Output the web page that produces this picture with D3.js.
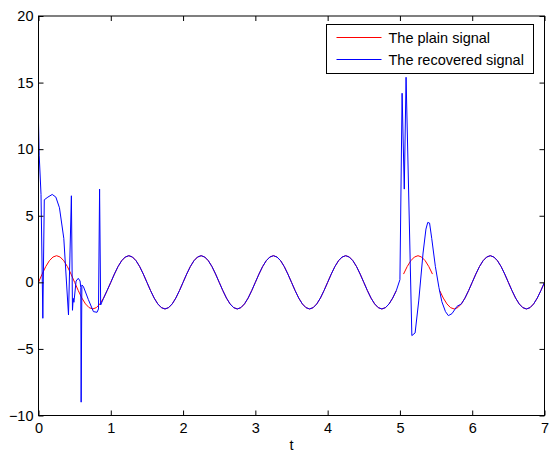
<!DOCTYPE html>
<html><head><meta charset="utf-8">
<script src="https://cdn.jsdelivr.net/npm/d3@7"></script>
<style>body{margin:0;background:#fff}svg{display:block}text{font-family:"Liberation Sans",Arial,sans-serif}</style>
</head><body>
<script>
// ---- data ----
const xTicks = [0,1,2,3,4,5,6,7];
const yTicks = [-10,-5,0,5,10,15,20];
const seriesNames = ["The plain signal","The recovered signal"];
const seriesColors = ["#ff0000","#0000ff"];

// plain signal sampled every 0.05 from t=0 to t=7 (null = not drawn)
const plainValues = [
 0,0.62,1.18,1.62,1.9,2,1.9,1.62,1.18,0.62,0,-0.62,-1.18,-1.62,-1.9,-2,-1.9,-1.62,-1.18,-0.62,
 0,0.62,1.18,1.62,1.9,2,1.9,1.62,1.18,0.62,0,-0.62,-1.18,-1.62,-1.9,-2,-1.9,-1.62,-1.18,-0.62,
 0,0.62,1.18,1.62,1.9,2,1.9,1.62,1.18,0.62,0,-0.62,-1.18,-1.62,-1.9,-2,-1.9,-1.62,-1.18,-0.62,
 0,0.62,1.18,1.62,1.9,2,1.9,1.62,1.18,0.62,0,-0.62,-1.18,-1.62,-1.9,-2,-1.9,-1.62,-1.18,-0.62,
 0,0.62,1.18,1.62,1.9,2,1.9,1.62,1.18,0.62,0,-0.62,-1.18,-1.62,-1.9,-2,-1.9,-1.62,-1.18,-0.62,
 null,0.62,1.18,1.62,1.9,2,1.9,1.62,1.18,0.62,null,-0.62,-1.18,-1.62,-1.9,-2,-1.9,-1.62,-1.18,-0.62,
 0,0.62,1.18,1.62,1.9,2,1.9,1.62,1.18,0.62,0,-0.62,-1.18,-1.62,-1.9,-2,-1.9,-1.62,-1.18,-0.62,
 0];
const plainTime = plainValues.map((_, i) => i * 0.05);

// recovered signal (irregular sample times)
const recoveredTime = [
 0,0.01,0.035,0.06,0.08,0.13,0.19,0.24,0.29,0.35,0.415,0.455,0.47,0.48,0.49,0.52,0.55,0.575,0.585,0.59,0.6,0.62,0.69,0.76,0.81,0.83,0.845,0.86,0.9,0.95,
 1,1.05,1.1,1.15,1.2,1.25,1.3,1.35,1.4,1.45,1.5,1.55,1.6,1.65,1.7,1.75,1.8,1.85,1.9,1.95,
 2,2.05,2.1,2.15,2.2,2.25,2.3,2.35,2.4,2.45,2.5,2.55,2.6,2.65,2.7,2.75,2.8,2.85,2.9,2.95,
 3,3.05,3.1,3.15,3.2,3.25,3.3,3.35,3.4,3.45,3.5,3.55,3.6,3.65,3.7,3.75,3.8,3.85,3.9,3.95,
 4,4.05,4.1,4.15,4.2,4.25,4.3,4.35,4.4,4.45,4.5,4.55,4.6,4.65,4.7,4.75,4.8,4.85,4.9,4.95,
 5,5.03,5.06,5.085,5.165,5.21,5.26,5.32,5.36,5.385,5.41,5.44,5.49,5.54,5.58,5.63,5.67,5.72,5.79,5.85,5.9,5.95,
 6,6.05,6.1,6.15,6.2,6.25,6.3,6.35,6.4,6.45,6.5,6.55,6.6,6.65,6.7,6.75,6.8,6.85,6.9,6.95,
 7];
const recoveredValues = [
 12.0,9.5,6.6,-2.7,6.2,6.4,6.6,6.4,5.6,3.3,-2.45,6.5,-2.1,-1.2,-1.5,0.1,0.3,0.1,-0.4,-9.0,-0.2,-0.3,-1.3,-2.2,-2.25,-2.0,7.0,-1.7,-1.2,-0.6,
 0,0.62,1.18,1.62,1.9,2,1.9,1.62,1.18,0.62,0,-0.62,-1.18,-1.62,-1.9,-2,-1.9,-1.62,-1.18,-0.62,
 0,0.62,1.18,1.62,1.9,2,1.9,1.62,1.18,0.62,0,-0.62,-1.18,-1.62,-1.9,-2,-1.9,-1.62,-1.18,-0.62,
 0,0.62,1.18,1.62,1.9,2,1.9,1.62,1.18,0.62,0,-0.62,-1.18,-1.62,-1.9,-2,-1.9,-1.62,-1.18,-0.62,
 0,0.62,1.18,1.62,1.9,2,1.9,1.62,1.18,0.62,0,-0.62,-1.18,-1.62,-1.9,-2,-1.9,-1.62,-1.18,-0.62,
 0.2,14.2,7.0,15.4,-4.0,-3.8,-1.4,2.2,4.0,4.5,4.45,3.3,1.2,-0.4,-1.45,-2.2,-2.5,-2.35,-1.8,-1.62,-1.18,-0.62,
 0,0.62,1.18,1.62,1.9,2,1.9,1.62,1.18,0.62,0,-0.62,-1.18,-1.62,-1.9,-2,-1.9,-1.62,-1.18,-0.62,
 0];

// ---- chart ----
const W = 549, H = 454;
const m = {left: 38.5, right: 544.5, top: 16, bottom: 415.5};
const svg = d3.select("body").append("svg").attr("width", W).attr("height", H);

const x = d3.scaleLinear().domain([0, 7]).range([m.left, m.right]);
const y = d3.scaleLinear().domain([-10, 20]).range([m.bottom, m.top]);

svg.append("clipPath").attr("id", "pc").append("rect")
  .attr("x", m.left).attr("y", m.top).attr("width", m.right - m.left).attr("height", m.bottom - m.top);

const line = d3.line().defined(d => d[1] !== null).x(d => x(d[0])).y(d => y(d[1]));
const plot = svg.append("g").attr("clip-path", "url(#pc)");
plot.append("path").datum(plainTime.map((t, i) => [t, plainValues[i]]))
  .attr("d", line).attr("fill", "none").attr("stroke", seriesColors[0]).attr("stroke-width", 1);
plot.append("path").datum(recoveredTime.map((t, i) => [t, recoveredValues[i]]))
  .attr("d", line).attr("fill", "none").attr("stroke", seriesColors[1]).attr("stroke-width", 1);

// frame
svg.append("rect").attr("x", m.left).attr("y", m.top).attr("width", m.right - m.left).attr("height", m.bottom - m.top)
  .attr("fill", "none").attr("stroke", "#000").attr("stroke-width", 1);

const fs = 14.5;
const axB = d3.axisBottom(x).tickValues(xTicks).tickSize(-5).tickPadding(7).tickFormat(d3.format("d"));
const gB = svg.append("g").attr("transform", `translate(0,${m.bottom})`).call(axB);
const axT = d3.axisTop(x).tickValues(xTicks).tickSize(-5).tickFormat("");
const gT = svg.append("g").attr("transform", `translate(0,${m.top})`).call(axT);
const axL = d3.axisLeft(y).tickValues(yTicks).tickSize(-5).tickPadding(5).tickFormat(d3.format("d"));
const gL = svg.append("g").attr("transform", `translate(${m.left},0)`).call(axL);
const axR = d3.axisRight(y).tickValues(yTicks).tickSize(-5).tickFormat("");
const gR = svg.append("g").attr("transform", `translate(${m.right},0)`).call(axR);
[gB, gT, gL, gR].forEach(g => {
  g.select(".domain").remove();
  g.selectAll("text").attr("font-size", fs).attr("fill", "#000").attr("font-family", "Liberation Sans, Arial, sans-serif");
  g.selectAll("line").attr("stroke", "#000");
});

svg.append("text").attr("x", (m.left + m.right) / 2).attr("y", 450).attr("text-anchor", "middle")
  .attr("font-size", fs).text("t");

// legend
const lg = svg.append("g");
const lx = 326.5, ly = 24.5, lw = 207, lh = 49;
lg.append("rect").attr("x", lx).attr("y", ly).attr("width", lw).attr("height", lh)
  .attr("fill", "#fff").attr("stroke", "#000").attr("stroke-width", 1);
seriesNames.forEach((name, i) => {
  const cy = ly + 13 + i * 22;
  lg.append("line").attr("x1", lx + 10).attr("x2", lx + 55).attr("y1", cy).attr("y2", cy)
    .attr("stroke", seriesColors[i]).attr("stroke-width", 1);
  lg.append("text").attr("x", lx + 62).attr("y", cy).attr("dy", "0.35em")
    .attr("font-size", 14.5).text(name);
});
</script>
</body></html>
